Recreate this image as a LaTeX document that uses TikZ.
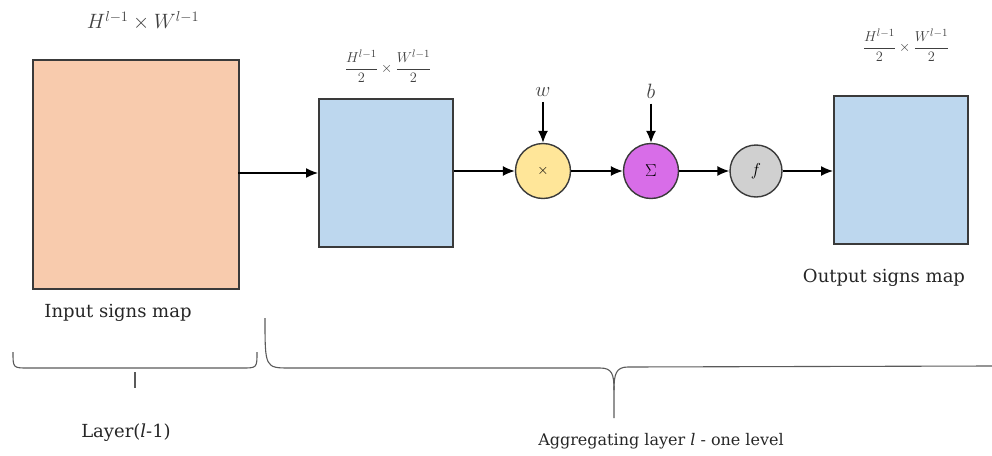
\documentclass[tikz,border=0pt]{standalone}
\usepackage{fontspec}
\setmainfont{DejaVu Serif}
\usetikzlibrary{arrows.meta}
\definecolor{inorange}{HTML}{F8CBAD}
\definecolor{mapblue}{HTML}{BDD7EE}
\definecolor{multyellow}{HTML}{FFE699}
\definecolor{sumpurple}{HTML}{D86DE8}
\definecolor{actgray}{HTML}{D0D0D0}
\definecolor{edgegray}{HTML}{3A3A3A}
\definecolor{bracegray}{HTML}{5A5A5A}
\tikzset{
  mapbox/.style={draw=edgegray, line width=1.6pt, anchor=north west, inner sep=0pt},
  opcirc/.style={circle, draw=edgegray, line width=1.4pt, inner sep=0pt},
  flow/.style={-{Latex[length=12pt,width=10pt]}, line width=1.4pt, black},
  lbl/.style={font=\fontsize{18}{20}\selectfont, text=black!85},
  mlbl/.style={font=\fontsize{20}{22}\selectfont, text=black!75},
  flbl/.style={font=\fontsize{15}{17}\selectfont, text=black!75},
  brace/.style={draw=bracegray, line width=1.1pt}
}
\begin{document}
\begin{tikzpicture}[x=1pt,y=-1pt]
\useasboundingbox (0,0) rectangle (992,455);
% boxes
\node[mapbox, fill=inorange, minimum width=206pt, minimum height=229pt] (inmap) at (32,59) {};
\node[mapbox, fill=mapblue, minimum width=134pt, minimum height=148pt] (pool) at (318,98) {};
\node[mapbox, fill=mapblue, minimum width=134pt, minimum height=148pt] (outmap) at (833,95) {};
% operation circles
\node[opcirc, fill=multyellow, minimum size=55pt] (mult) at (543,171) {\fontsize{14}{14}\selectfont$\times$};
\node[opcirc, fill=sumpurple, minimum size=55pt] (sum) at (651,171) {\fontsize{17}{17}\selectfont$\Sigma$};
\node[opcirc, fill=actgray, minimum size=52pt] (act) at (756,171) {\fontsize{16}{16}\selectfont$f$};
% labels
\node[mlbl] (insize) at (143,21) {$H^{l-1}\times W^{l-1}$};
\node[flbl] (poolsize) at (388,66) {$\displaystyle\frac{H^{l-1}}{2}\times\frac{W^{l-1}}{2}$};
\node[flbl] (outsize) at (906,45) {$\displaystyle\frac{H^{l-1}}{2}\times\frac{W^{l-1}}{2}$};
\node[mlbl] (wlbl) at (543,92) {$w$};
\node[mlbl] (blbl) at (651,91) {$b$};
\node[lbl] (inname) at (118,313) {Input signs map};
\node[lbl] (outname) at (884,278) {Output signs map};
\node[lbl] (prevlayer) at (126,433) {Layer(\textit{l}-1)};
\node[lbl, font=\fontsize{16}{18}\selectfont] (agglayer) at (661,441) {Aggregating layer \textit{l} - one level};
% connectors
\coordinate (ist) at (238,173);
\draw[flow] (ist) -- (pool.west |- ist);
\draw[flow] (pool.east |- mult.west) -- (mult.west);
\draw[flow] (mult) -- (sum);
\draw[flow] (sum) -- (act);
\draw[flow] (act) -- (outmap.west |- act);
\draw[flow] (wlbl.south) ++(0,2) -- (mult.north);
\draw[flow] (blbl.south) ++(0,2) -- (sum.north);
% braces
\draw[brace] (13,352) .. controls (13,368) .. (28,368) -- (242,368) .. controls (257,368) .. (257,352);
\draw[brace] (135,372) -- (135,388);
\draw[brace] (265,318) .. controls (265,368) .. (290,368) -- (600,368)
  .. controls (612,368) and (614,374) .. (614,390) -- (614,418);
\draw[brace] (614,390) .. controls (614,374) and (616,367) .. (628,367) -- (992,366);
\end{tikzpicture}
\end{document}
